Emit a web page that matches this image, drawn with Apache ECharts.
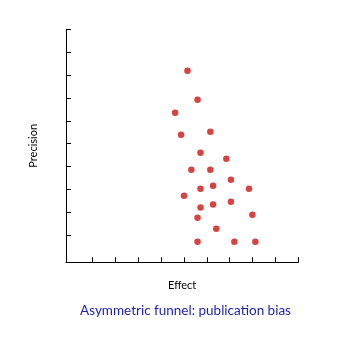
<!DOCTYPE html>
<html>
<head>
<meta charset="utf-8">
<script src="https://cdn.jsdelivr.net/npm/echarts@6/dist/echarts.min.js"></script>
<style>
  html, body { margin: 0; padding: 0; background: #ffffff; }
  #chart { width: 348px; height: 339px; }
</style>
</head>
<body>
<div id="chart"></div>
<script>
var effect = [4.15, 4.59, 3.61, 3.87, 5.15, 4.72, 5.85, 4.32, 5.15, 6.05, 4.72, 5.27, 6.84, 4.00, 4.72, 5.27, 6.05, 4.59, 6.99, 5.41, 4.59, 6.20, 7.12];
var precision = [7.19, 5.92, 5.35, 4.39, 4.52, 3.61, 3.34, 2.86, 2.86, 2.43, 2.03, 2.17, 2.03, 1.73, 1.21, 1.34, 1.47, 0.77, 0.90, 0.29, -0.28, -0.28, -0.28];
var xTicks = [0, 1, 2, 3, 4, 5, 6, 7, 8, 9];
var yTicks = [0, 1, 2, 3, 4, 5, 6, 7, 8, 9];
var titleText = 'Asymmetric funnel: publication bias';
var xName = 'Effect';
var yName = 'Precision';

var points = effect.map(function (v, i) { return [v, precision[i]]; });

var chart = echarts.init(document.getElementById('chart'), null, { renderer: 'canvas' });
var axisCommon = {
  axisLine: { show: true, onZero: false, lineStyle: { color: '#000000', width: 1 } },
  axisLabel: { show: false },
  splitLine: { show: false }
};
chart.setOption({
  animation: false,
  backgroundColor: '#ffffff',
  title: {
    text: titleText,
    left: 185.5,
    textAlign: 'center',
    top: 304,
    padding: 0,
    textStyle: { color: '#1c1fb0', fontFamily: 'Lato', fontSize: 13.5, fontWeight: 'normal' }
  },
  grid: { left: 66, right: 49.7, top: 29.3, bottom: 76.7, containLabel: false },
  xAxis: Object.assign({}, axisCommon, {
    type: 'value',
    min: -1.166,
    max: 9,
    name: xName,
    nameLocation: 'middle',
    nameGap: 17.5,
    nameTextStyle: { color: '#000000', fontFamily: 'Lato', fontSize: 11 },
    axisTick: { show: true, inside: true, length: 5, customValues: xTicks, lineStyle: { color: '#000000' } }
  }),
  yAxis: Object.assign({}, axisCommon, {
    type: 'value',
    min: -1.18,
    max: 9,
    name: yName,
    nameLocation: 'middle',
    nameGap: 27,
    nameRotate: 90,
    nameTextStyle: { color: '#000000', fontFamily: 'Lato', fontSize: 11 },
    axisTick: { show: true, inside: true, length: 5, customValues: yTicks, lineStyle: { color: '#000000' } }
  }),
  series: [{
    type: 'scatter',
    data: points,
    symbol: 'circle',
    symbolSize: 6.5,
    itemStyle: { color: '#cc1410' }
  }]
});
</script>
</body>
</html>
